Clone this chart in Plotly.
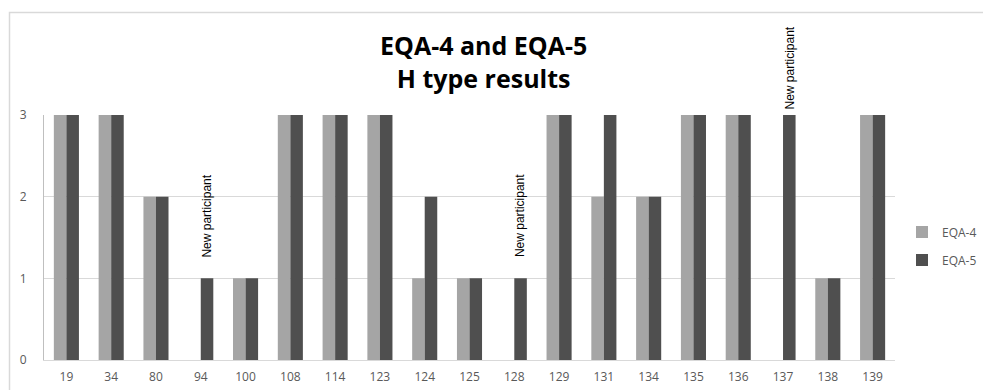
import plotly.graph_objects as go

categories = ["19", "34", "80", "94", "100", "108", "114", "123", "124", "125",
              "128", "129", "131", "134", "135", "136", "137", "138", "139"]
eqa4 = [3, 3, 2, 0, 1, 3, 3, 3, 1, 1, 0, 3, 2, 2, 3, 3, 0, 1, 3]
eqa5 = [3, 3, 2, 1, 1, 3, 3, 3, 2, 1, 1, 3, 3, 2, 3, 3, 3, 1, 3]
new_participants = ["94", "128", "137"]
y_ticks = [0, 1, 2, 3]

W, H = 983, 390
L, R, T, B = 44, 88, 115, 30
pw, ph = W - L - R, H - T - B

def px_x(x):
    return (x - L) / pw

def px_y(y):
    return (H - B - y) / ph

fig = go.Figure()
fig.add_trace(go.Bar(x=categories, y=eqa4, name="EQA-4", marker_color="#A5A5A5",
                     marker_line_width=0, legendgroup="a"))
fig.add_trace(go.Bar(x=categories, y=eqa5, name="EQA-5", marker_color="#4F4F4F",
                     marker_line_width=0, legendgroup="b"))

val5 = dict(zip(categories, eqa5))
for c in new_participants:
    v = val5[c]
    fig.add_annotation(x=categories.index(c), y=v, text="New participant", textangle=-90,
                       showarrow=False, xanchor="center", yanchor="bottom",
                       xshift=6, yshift=(3 if v == 3 else 19),
                       font=dict(family="Liberation Sans, Arial", size=12, color="#000000"))

fig.add_annotation(xref="paper", yref="paper", x=px_x(483), y=px_y(61),
                   text="<b>EQA-4 and EQA-5<br>H type results</b>", showarrow=False,
                   xanchor="center", yanchor="middle", align="center",
                   font=dict(family="Open Sans", size=25, color="#000000"))

fig.add_shape(type="rect", xref="paper", yref="paper",
              x0=px_x(9.5), x1=px_x(1000), y0=px_y(400), y1=px_y(12.5),
              line=dict(color="#D9D9D9", width=1.5), fillcolor="rgba(0,0,0,0)", layer="below")

fig.update_layout(
    width=W, height=H,
    margin=dict(l=L, r=R, t=T, b=B, autoexpand=False),
    paper_bgcolor="white", plot_bgcolor="white",
    barmode="group", bargap=0.44, bargroupgap=0,
    font=dict(family="Open Sans", size=12, color="#595959"),
    legend=dict(xref="container", yref="container", x=902 / W, y=(H - 246) / H,
                xanchor="left", yanchor="middle",
                font=dict(size=12, color="#595959"), tracegroupgap=9,
                itemwidth=30),
    showlegend=True,
)
fig.update_xaxes(type="category", showline=True, linecolor="#D9D9D9", linewidth=1,
                 showgrid=False, ticks="", tickfont=dict(size=12, color="#595959"),
                 ticklabelstandoff=6)
fig.update_yaxes(range=[0, 3], tickvals=y_ticks, showgrid=True, gridcolor="#D9D9D9",
                 gridwidth=1, showline=True, linecolor="#BFBFBF", linewidth=1,
                 zeroline=False, ticks="", tickfont=dict(size=12, color="#595959"),
                 ticklabelstandoff=14)

fig.write_html("out.html", config={"displayModeBar": False},
               post_script="document.body.style.margin='0';document.body.style.overflow='hidden';")
